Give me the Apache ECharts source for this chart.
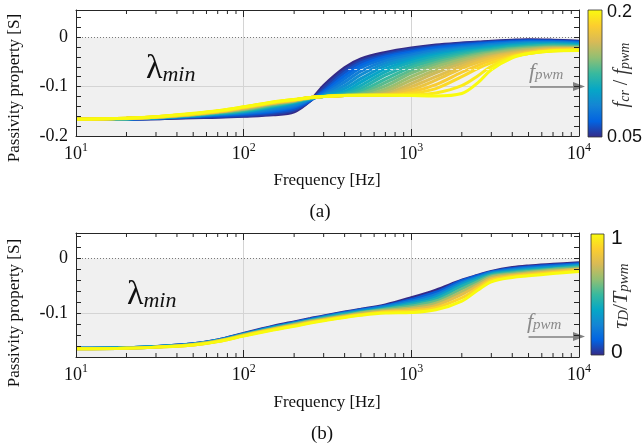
<!DOCTYPE html>
<html><head><meta charset="utf-8">
<script src="https://cdn.jsdelivr.net/npm/echarts@6/dist/echarts.min.js"></script>
<style>html,body{margin:0;padding:0;background:#fff}#c{width:644px;height:448px}</style>
</head><body><div id="c"></div>
<script>
// ---------- DATA ----------
const freqs = [10,20,30,50,70,100,150,200,250,300,400,500,700,1000,1400,2000,2500,3000,4000,5000,7000,10000];
const minorTicks = [20,30,40,50,60,70,80,90,200,300,400,500,600,700,800,900,2000,3000,4000,5000,6000,7000,8000,9000];
const yTicksA = [0, -0.1, -0.2];
const yTicksB = [0, -0.1];
// (a) curves for f_cr/f_pwm from 0.05 (t00) to 0.2 (t22)
const t00 = [-0.166,-0.166,-0.165,-0.163,-0.162,-0.160,-0.157,-0.151,-0.128,-0.098,-0.062,-0.044,-0.031,-0.022,-0.016,-0.012,-0.010,-0.008,-0.006,-0.005,-0.006,-0.008];
const t01 = [-0.166,-0.166,-0.165,-0.162,-0.161,-0.159,-0.155,-0.148,-0.129,-0.103,-0.067,-0.048,-0.034,-0.024,-0.018,-0.013,-0.011,-0.009,-0.007,-0.006,-0.007,-0.009];
const t02 = [-0.166,-0.165,-0.164,-0.161,-0.159,-0.157,-0.152,-0.145,-0.128,-0.108,-0.072,-0.052,-0.037,-0.027,-0.020,-0.015,-0.013,-0.011,-0.008,-0.007,-0.008,-0.010];
const t03 = [-0.166,-0.165,-0.164,-0.160,-0.158,-0.155,-0.150,-0.142,-0.127,-0.111,-0.078,-0.057,-0.040,-0.030,-0.022,-0.017,-0.014,-0.012,-0.010,-0.008,-0.009,-0.011];
const t04 = [-0.166,-0.165,-0.164,-0.160,-0.157,-0.154,-0.148,-0.140,-0.126,-0.114,-0.084,-0.062,-0.044,-0.033,-0.025,-0.019,-0.016,-0.014,-0.011,-0.010,-0.010,-0.012];
const t05 = [-0.166,-0.165,-0.163,-0.160,-0.156,-0.153,-0.146,-0.138,-0.126,-0.116,-0.091,-0.069,-0.048,-0.036,-0.027,-0.021,-0.018,-0.015,-0.012,-0.011,-0.011,-0.013];
const t06 = [-0.166,-0.165,-0.163,-0.159,-0.156,-0.152,-0.144,-0.136,-0.125,-0.118,-0.098,-0.076,-0.053,-0.040,-0.030,-0.023,-0.020,-0.017,-0.014,-0.012,-0.012,-0.014];
const t07 = [-0.166,-0.165,-0.163,-0.158,-0.155,-0.151,-0.142,-0.134,-0.124,-0.118,-0.104,-0.084,-0.058,-0.043,-0.033,-0.025,-0.022,-0.019,-0.015,-0.013,-0.013,-0.015];
const t08 = [-0.166,-0.165,-0.163,-0.158,-0.155,-0.150,-0.141,-0.133,-0.124,-0.119,-0.110,-0.091,-0.064,-0.047,-0.036,-0.028,-0.024,-0.021,-0.017,-0.015,-0.014,-0.016];
const t09 = [-0.166,-0.165,-0.163,-0.158,-0.154,-0.150,-0.140,-0.132,-0.124,-0.119,-0.113,-0.098,-0.070,-0.051,-0.039,-0.030,-0.026,-0.023,-0.018,-0.016,-0.015,-0.017];
const t10 = [-0.166,-0.165,-0.163,-0.158,-0.154,-0.149,-0.139,-0.131,-0.124,-0.120,-0.115,-0.104,-0.077,-0.056,-0.043,-0.033,-0.028,-0.025,-0.020,-0.018,-0.016,-0.018];
const t11 = [-0.166,-0.165,-0.162,-0.157,-0.153,-0.148,-0.138,-0.130,-0.123,-0.120,-0.116,-0.109,-0.085,-0.061,-0.047,-0.036,-0.030,-0.027,-0.022,-0.019,-0.017,-0.019];
const t12 = [-0.166,-0.165,-0.162,-0.157,-0.153,-0.147,-0.137,-0.130,-0.123,-0.120,-0.117,-0.113,-0.092,-0.067,-0.051,-0.039,-0.033,-0.029,-0.023,-0.021,-0.019,-0.020];
const t13 = [-0.166,-0.165,-0.162,-0.157,-0.152,-0.146,-0.136,-0.129,-0.123,-0.120,-0.117,-0.115,-0.099,-0.073,-0.055,-0.042,-0.035,-0.031,-0.025,-0.022,-0.020,-0.020];
const t14 = [-0.166,-0.164,-0.162,-0.157,-0.152,-0.146,-0.135,-0.129,-0.123,-0.120,-0.118,-0.117,-0.105,-0.080,-0.060,-0.045,-0.038,-0.033,-0.027,-0.024,-0.021,-0.021];
const t15 = [-0.166,-0.164,-0.162,-0.156,-0.151,-0.145,-0.134,-0.128,-0.122,-0.120,-0.118,-0.118,-0.110,-0.087,-0.066,-0.049,-0.041,-0.035,-0.029,-0.025,-0.022,-0.022];
const t16 = [-0.166,-0.164,-0.162,-0.156,-0.151,-0.144,-0.134,-0.128,-0.122,-0.120,-0.118,-0.118,-0.114,-0.094,-0.072,-0.053,-0.044,-0.038,-0.031,-0.027,-0.023,-0.023];
const t17 = [-0.166,-0.164,-0.162,-0.156,-0.151,-0.143,-0.133,-0.127,-0.122,-0.120,-0.118,-0.118,-0.116,-0.100,-0.080,-0.058,-0.047,-0.040,-0.033,-0.029,-0.024,-0.023];
const t18 = [-0.166,-0.164,-0.162,-0.156,-0.151,-0.143,-0.133,-0.127,-0.122,-0.120,-0.118,-0.118,-0.117,-0.106,-0.087,-0.063,-0.051,-0.043,-0.035,-0.030,-0.025,-0.024];
const t19 = [-0.166,-0.164,-0.161,-0.155,-0.150,-0.142,-0.132,-0.127,-0.122,-0.120,-0.118,-0.118,-0.118,-0.111,-0.096,-0.071,-0.057,-0.047,-0.037,-0.031,-0.026,-0.024];
const t20 = [-0.166,-0.164,-0.161,-0.155,-0.150,-0.142,-0.132,-0.127,-0.122,-0.120,-0.118,-0.118,-0.118,-0.114,-0.104,-0.080,-0.063,-0.052,-0.039,-0.033,-0.027,-0.025];
const t21 = [-0.166,-0.164,-0.161,-0.155,-0.149,-0.141,-0.131,-0.126,-0.122,-0.120,-0.118,-0.118,-0.118,-0.117,-0.113,-0.098,-0.078,-0.059,-0.040,-0.033,-0.028,-0.026];
const t22 = [-0.166,-0.164,-0.161,-0.154,-0.149,-0.141,-0.131,-0.126,-0.122,-0.120,-0.118,-0.117,-0.117,-0.118,-0.119,-0.114,-0.092,-0.066,-0.042,-0.033,-0.028,-0.027];
const paramsA = [0.05,0.0568,0.0636,0.0705,0.0773,0.0841,0.0909,0.0977,0.1045,0.1114,0.1182,0.125,0.1318,0.1386,0.1455,0.1523,0.1591,0.1659,0.1727,0.1795,0.1864,0.1932,0.2];
// (b) curves for tau_D/T_pwm from 0 (b0) to 1 (b9)
const b0 = [-0.164,-0.163,-0.161,-0.156,-0.149,-0.137,-0.124,-0.116,-0.110,-0.105,-0.098,-0.093,-0.085,-0.072,-0.058,-0.040,-0.031,-0.024,-0.017,-0.014,-0.011,-0.008];
const b1 = [-0.164,-0.163,-0.161,-0.156,-0.149,-0.138,-0.125,-0.117,-0.111,-0.106,-0.099,-0.094,-0.087,-0.075,-0.062,-0.041,-0.032,-0.025,-0.019,-0.016,-0.013,-0.010];
const b2 = [-0.164,-0.163,-0.161,-0.156,-0.150,-0.138,-0.126,-0.118,-0.112,-0.107,-0.100,-0.095,-0.088,-0.078,-0.066,-0.044,-0.034,-0.026,-0.021,-0.018,-0.015,-0.012];
const b3 = [-0.164,-0.163,-0.161,-0.157,-0.150,-0.139,-0.126,-0.119,-0.113,-0.108,-0.101,-0.097,-0.090,-0.081,-0.070,-0.047,-0.036,-0.028,-0.023,-0.020,-0.017,-0.013];
const b4 = [-0.164,-0.163,-0.161,-0.157,-0.150,-0.139,-0.127,-0.120,-0.114,-0.109,-0.102,-0.098,-0.092,-0.084,-0.074,-0.051,-0.039,-0.030,-0.025,-0.022,-0.019,-0.015];
const b5 = [-0.165,-0.164,-0.162,-0.157,-0.151,-0.140,-0.128,-0.120,-0.114,-0.110,-0.104,-0.099,-0.093,-0.087,-0.078,-0.056,-0.042,-0.032,-0.027,-0.024,-0.020,-0.017];
const b6 = [-0.165,-0.164,-0.162,-0.157,-0.151,-0.140,-0.129,-0.121,-0.115,-0.111,-0.105,-0.100,-0.095,-0.090,-0.082,-0.061,-0.046,-0.034,-0.029,-0.026,-0.022,-0.019];
const b7 = [-0.165,-0.164,-0.162,-0.158,-0.151,-0.141,-0.129,-0.122,-0.116,-0.112,-0.106,-0.102,-0.097,-0.093,-0.086,-0.066,-0.050,-0.037,-0.031,-0.028,-0.024,-0.020];
const b8 = [-0.165,-0.164,-0.162,-0.158,-0.152,-0.141,-0.130,-0.123,-0.117,-0.113,-0.107,-0.103,-0.098,-0.096,-0.090,-0.072,-0.054,-0.040,-0.033,-0.030,-0.026,-0.022];
const b9 = [-0.165,-0.164,-0.162,-0.158,-0.152,-0.142,-0.131,-0.124,-0.118,-0.114,-0.108,-0.104,-0.100,-0.099,-0.094,-0.078,-0.058,-0.043,-0.035,-0.032,-0.028,-0.024];
const paramsB = [0,0.111,0.222,0.333,0.444,0.556,0.667,0.778,0.889,1];
const curvesA = [t00,t01,t02,t03,t04,t05,t06,t07,t08,t09,t10,t11,t12,t13,t14,t15,t16,t17,t18,t19,t20,t21,t22];
const curvesB = [b0,b1,b2,b3,b4,b5,b6,b7,b8,b9];
const cbarLabelsA = ['0.2','0.05'];
const cbarLabelsB = ['1','0'];

// ---------- STYLE ----------
const parulaStops = ['#352a87','#0363e1','#1485d4','#06a7c6','#38b99e','#92bf73','#d9ba56','#fcce2e','#f9fb0e'];
function hex2rgb(h){return [parseInt(h.substr(1,2),16),parseInt(h.substr(3,2),16),parseInt(h.substr(5,2),16)];}
function parula(t){
  const n=parulaStops.length-1, x=Math.max(0,Math.min(1,t))*n;
  const i=Math.min(n-1,Math.floor(x)), f=x-i;
  const a=hex2rgb(parulaStops[i]), b=hex2rgb(parulaStops[i+1]);
  return 'rgb('+a.map((v,j)=>Math.round(v+(b[j]-v)*f)).join(',')+')';
}
const gradStops = parulaStops.map((c,i)=>({offset:i/(parulaStops.length-1), color:c}));
const SERIF = "'Liberation Serif', 'DejaVu Serif', serif";
const SANS = "'Liberation Sans', Arial, sans-serif";
const AX = '#262626';

const grids = [
  {left:76, top:10, width:503, height:126, ymin:-0.2, ymax:0.055},
  {left:76, top:233, width:503, height:124, ymin:-0.18, ymax:0.046}
];

function xLabelFmt(v){ const e=Math.round(Math.log10(v)); return '{b|10}{s|'+e+'}'; }
const xRich = {b:{fontFamily:SERIF,fontSize:18,color:'#111',lineHeight:24}, s:{fontFamily:SERIF,fontSize:12,color:'#111',verticalAlign:'top',lineHeight:13}};
const axLine = {show:true,onZero:false,lineStyle:{color:AX,width:1}};

const xAxes=[], yAxes=[];
grids.forEach((g,gi)=>{
  const labs = gi===0?yTicksA:yTicksB;
  xAxes.push({type:'log',logBase:10,gridIndex:gi,min:10,max:10000,position:'bottom',z:10,
    axisLine:axLine,
    axisTick:{show:true,inside:true,length:7,lineStyle:{color:AX}},
    axisLabel:{show:true,formatter:xLabelFmt,rich:xRich,margin:6},
    splitLine:{show:false},minorTick:{show:false}});
  xAxes.push({type:'log',logBase:10,gridIndex:gi,min:10,max:10000,position:'top',z:10,
    axisLine:axLine,
    axisTick:{show:true,inside:true,length:7,lineStyle:{color:AX}},
    axisLabel:{show:false},splitLine:{show:false}});
  yAxes.push({type:'value',gridIndex:gi,min:g.ymin,max:g.ymax,interval:0.02,position:'left',z:10,
    axisLine:axLine,
    axisTick:{show:true,inside:true,length:5,lineStyle:{color:AX}},
    axisLabel:{show:true,fontFamily:SERIF,fontSize:18,color:'#111',margin:8,
      formatter:v=>{ const m=labs.find(t=>Math.abs(t-v)<1e-6); return m===undefined?'':(m===0?'0':String(m)); }},
    splitLine:{show:false}});
  yAxes.push({type:'value',gridIndex:gi,min:g.ymin,max:g.ymax,interval:0.02,position:'right',z:10,
    axisLine:axLine,
    axisTick:{show:true,inside:true,length:5,lineStyle:{color:AX}},
    axisLabel:{show:false},splitLine:{show:false}});
});

const series=[];
grids.forEach((g,gi)=>{
  const gl = {color:'#d4d4d4',width:1,type:'solid'};
  series.push({type:'line',xAxisIndex:gi*2,yAxisIndex:gi*2,data:[],silent:true,z:1,
    markArea:{silent:true,z:0,itemStyle:{color:'#f0f0f0'},data:[[{yAxis:g.ymin},{yAxis:0}]]}});
  series.push({type:'line',xAxisIndex:gi*2,yAxisIndex:gi*2,data:[],silent:true,z:1,
    markLine:{silent:true,z:1,symbol:'none',label:{show:false},animation:false,data:[
      {yAxis:0,lineStyle:{color:'#7a7a7a',width:1,type:[1,2]}},
      {yAxis:-0.1,lineStyle:gl},
      {xAxis:100,lineStyle:gl},
      {xAxis:1000,lineStyle:gl}
    ]}});
});
function addCurves(curves, params, gi, lw){
  const pmin=params[0], pmax=params[params.length-1];
  curves.forEach((c,k)=>{
    series.push({type:'line',xAxisIndex:gi*2,yAxisIndex:gi*2,
      data:freqs.map((f,i)=>[f,c[i]]),showSymbol:false,smooth:0.35,silent:true,z:3,
      lineStyle:{width:lw,color:parula((params[k]-pmin)/(pmax-pmin))}});
  });
}
addCurves(curvesA, paramsA, 0, 3);
addCurves(curvesB, paramsB, 1, 3);

// annotations: f_pwm arrows, white dashed line
series.push({type:'line',xAxisIndex:0,yAxisIndex:0,data:[],silent:true,z:5,
  markLine:{silent:true,z:6,label:{show:false},animation:false,data:[
    [{coord:[5100,-0.1],symbol:'none'},{coord:[10000,-0.1],symbol:'triangle',symbolSize:[9,12]}],
    [{coord:[420,-0.0655],symbol:'none',lineStyle:{color:'rgba(255,255,255,0.75)',width:1,type:[3,3]}},{coord:[3050,-0.0655],symbol:'none'}]
  ],lineStyle:{color:'#808080',width:1.5,type:'solid'}}});
series.push({type:'line',xAxisIndex:2,yAxisIndex:2,data:[],silent:true,z:5,
  markLine:{silent:true,z:6,label:{show:false},animation:false,symbol:['none','triangle'],symbolSize:[9,12],data:[
    [{coord:[5000,-0.1425]},{coord:[10000,-0.1425]}]
  ],lineStyle:{color:'#808080',width:1.5,type:'solid'}}});

// minor x ticks
grids.forEach((g,gi)=>{
  series.push({type:'custom',xAxisIndex:gi*2,yAxisIndex:gi*2,silent:true,z:6,clip:false,
    data:minorTicks.map(f=>[f,g.ymin]),
    renderItem:(p,api)=>{
      const a=api.coord([api.value(0),g.ymin]), b=api.coord([api.value(0),g.ymax]);
      const st={stroke:AX,lineWidth:1};
      return {type:'group',children:[
        {type:'line',shape:{x1:a[0],y1:a[1],x2:a[0],y2:a[1]-4},style:st},
        {type:'line',shape:{x1:b[0],y1:b[1],x2:b[0],y2:b[1]+4},style:st}]};
    }});
});

const txt = (x,y,text,extra)=>Object.assign({type:'text',x,y,silent:true,z:100,
  style:Object.assign({text,fill:'#111',font:'18px '+SERIF,align:'center',verticalAlign:'middle'},extra||{})});
const rotTxt = (x,y,text,extra)=>{ const t=txt(x,y,text,extra); t.rotation=Math.PI/2; return t; };
const subRich = (col,fs,ss)=>({f:{fontFamily:SERIF,fontStyle:'italic',fontSize:fs,fill:col},
  s:{fontFamily:SERIF,fontStyle:'italic',fontSize:ss,fill:col,verticalAlign:'bottom',padding:[6,0,0,0]},
  n:{fontFamily:SERIF,fontSize:fs,fill:col}});
const lamRich = {l:{fontFamily:SERIF,fontSize:34,fill:'#111'},m:{fontFamily:SERIF,fontStyle:'italic',fontSize:22,fill:'#111',verticalAlign:'bottom',padding:[12,0,0,0]}};

const graphic = [
  rotTxt(15,88,'Passivity property [S]',{font:'17px '+SERIF}),
  rotTxt(15,313,'Passivity property [S]',{font:'17px '+SERIF}),
  txt(327,181,'Frequency [Hz]',{font:'17px '+SERIF}),
  txt(327,403,'Frequency [Hz]',{font:'17px '+SERIF}),
  txt(320,212,'(a)',{font:'19px '+SERIF}),
  txt(322,434,'(b)',{font:'19px '+SERIF}),
  txt(146,69,'{l|λ}{m|min}',{align:'left',rich:lamRich}),
  txt(127,295,'{l|λ}{m|min}',{align:'left',rich:lamRich}),
  txt(529,72,'{f|f}{s|pwm}',{align:'left',rich:subRich('#8a8a8a',22,15)}),
  txt(527,322,'{f|f}{s|pwm}',{align:'left',rich:subRich('#8a8a8a',22,15)}),
  {type:'rect',silent:true,z:100,shape:{x:588,y:10,width:14,height:127},
    style:{fill:{type:'linear',x:0,y:1,x2:0,y2:0,colorStops:gradStops},stroke:'#333',lineWidth:0.8}},
  {type:'rect',silent:true,z:100,shape:{x:591,y:234,width:13,height:121},
    style:{fill:{type:'linear',x:0,y:1,x2:0,y2:0,colorStops:gradStops},stroke:'#333',lineWidth:0.8}},
  txt(607,12,cbarLabelsA[0],{align:'left',font:'18px '+SANS}),
  txt(607,137,cbarLabelsA[1],{align:'left',font:'18px '+SANS}),
  txt(611,238,cbarLabelsB[0],{align:'left',font:'21px '+SANS}),
  txt(611,352,cbarLabelsB[1],{align:'left',font:'21px '+SANS}),
  rotTxt(622,75,'{f|f}{s|cr}{n| / }{f|f}{s|pwm}',{rich:subRich('#333',20,14)}),
  rotTxt(621,296,'{f|τ}{s|D}{n|/}{f|T}{s|pwm}',{rich:subRich('#333',22,15)})
];

const chart = echarts.init(document.getElementById('c'),null,{renderer:'canvas'});
chart.setOption({
  animation:false,
  grid:grids.map(g=>({left:g.left,top:g.top,width:g.width,height:g.height,containLabel:false})),
  xAxis:xAxes, yAxis:yAxes, series, graphic
});
</script></body></html>
